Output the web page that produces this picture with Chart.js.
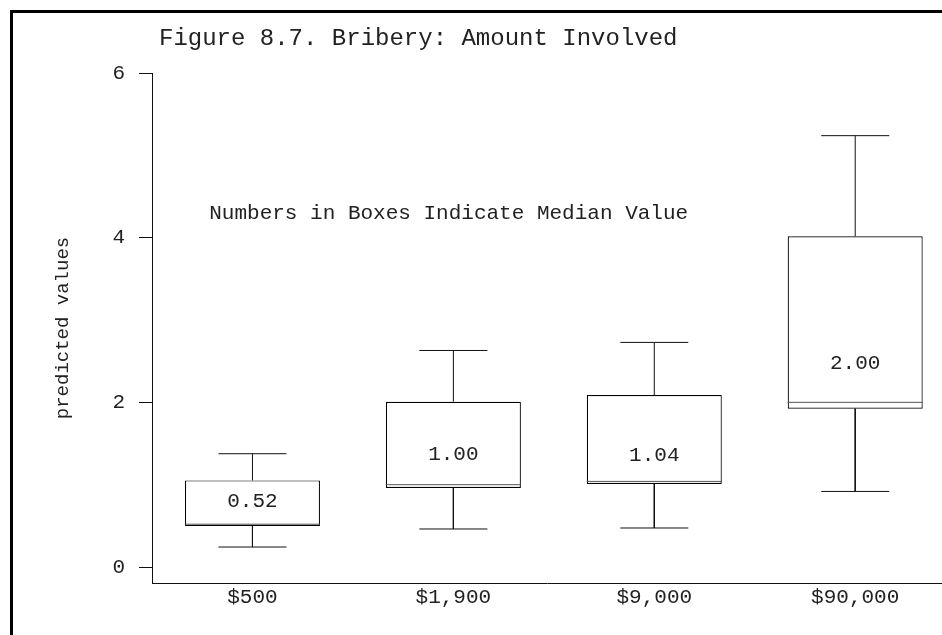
<!DOCTYPE html>
<html>
<head>
<meta charset="utf-8">
<script src="https://cdn.jsdelivr.net/npm/chart.js@4.4.1/dist/chart.umd.min.js"></script>
<style>
  html, body { margin: 0; padding: 0; background: #fff; overflow: hidden; }
  #wrap { width: 942px; height: 635px; }
</style>
</head>
<body>
<div id="wrap"><canvas id="boxChart" width="942" height="635"></canvas></div>
<script>
// Data
const categories = ['$500', '$1,900', '$9,000', '$90,000'];
const whiskerLow = [0.243, 0.462, 0.474, 0.918];
const quartile1 = [0.498, 0.96, 1.008, 1.923];
const medians = [0.52, 1.00, 1.04, 2.00];
const quartile3 = [1.052, 2.008, 2.089, 4.016];
const whiskerHigh = [1.376, 2.63, 2.728, 5.239];
// where the median number sits inside each box
const labelY = [0.797, 1.364, 1.352, 2.478];
const yTicks = [0, 2, 4, 6];

const FONT = '"Liberation Mono", "DejaVu Sans Mono", monospace';
const INK = '#111';

// whiskers: one vertical segment above and one below each box
const whiskerPoints = [];
categories.forEach((c, i) => {
    whiskerPoints.push({x: i + 1, y: quartile3[i]}, {x: i + 1, y: whiskerHigh[i]}, {x: i + 1, y: null});
    whiskerPoints.push({x: i + 1, y: quartile1[i]}, {x: i + 1, y: whiskerLow[i]}, {x: i + 1, y: null});
});

const capPoints = [];
categories.forEach((c, i) => {
    capPoints.push({x: i + 1, y: whiskerHigh[i]}, {x: i + 1, y: whiskerLow[i]});
});

const framePlugin = {
    id: 'frame',
    beforeDraw(chart) {
        const ctx = chart.ctx;
        ctx.save();
        ctx.fillStyle = '#fff';
        ctx.fillRect(0, 0, chart.width, chart.height);
        ctx.fillStyle = '#000';
        ctx.fillRect(10, 10, chart.width - 10, 3);
        ctx.fillRect(10, 10, 3, chart.height - 10);
        ctx.restore();
    },
    afterDatasetsDraw(chart) {
        const ctx = chart.ctx;
        const xs = chart.scales.x;
        const ys = chart.scales.y;
        ctx.save();
        ctx.fillStyle = '#222';
        ctx.font = '24px ' + FONT;
        ctx.textAlign = 'left';
        ctx.textBaseline = 'alphabetic';
        ctx.fillText('Figure 8.7. Bribery: Amount Involved', 159, 45);

        ctx.font = '21px ' + FONT;
        ctx.textBaseline = 'middle';
        ctx.fillText('Numbers in Boxes Indicate Median Value', xs.getPixelForValue(0.785), ys.getPixelForValue(4.3));

        ctx.textAlign = 'center';
        medians.forEach((m, i) => {
            ctx.fillText(m.toFixed(2), xs.getPixelForValue(i + 1), ys.getPixelForValue(labelY[i]));
        });
        ctx.restore();
    }
};

new Chart(document.getElementById('boxChart'), {
    type: 'bar',
    data: {
        datasets: [
            {
                label: 'caps',
                type: 'scatter',
                data: capPoints,
                pointStyle: 'line',
                radius: 34,
                borderColor: INK,
                borderWidth: 1,
                order: 1
            },
            {
                label: 'median',
                type: 'scatter',
                data: medians.map((m, i) => ({x: i + 1, y: m})),
                pointStyle: 'line',
                radius: 67.5,
                borderColor: '#555',
                borderWidth: 1,
                order: 1
            },
            {
                label: 'whiskers',
                type: 'line',
                data: whiskerPoints,
                borderColor: INK,
                borderWidth: 1,
                pointRadius: 0,
                spanGaps: false,
                fill: false,
                order: 2
            },
            {
                label: 'boxes',
                data: quartile1.map((q, i) => ({x: i + 1, y: [q, quartile3[i]]})),
                backgroundColor: '#fff',
                borderColor: '#000',
                borderWidth: 1.2,
                borderSkipped: false,
                categoryPercentage: 1,
                barPercentage: 0.672,
                order: 3
            }
        ]
    },
    options: {
        responsive: false,
        animation: false,
        events: [],
        layout: { autoPadding: false, padding: { top: 73, left: 0, right: 0, bottom: 0 } },
        plugins: {
            legend: { display: false },
            title: { display: false },
            tooltip: { enabled: false }
        },
        scales: {
            x: {
                type: 'linear',
                min: 0.5,
                max: 4.432,
                offset: false,
                afterBuildTicks: (scale) => {
                    scale.ticks = categories.map((c, i) => ({value: i + 1}));
                },
                afterFit: (scale) => { scale.height = 52; },
                grid: { drawOnChartArea: false, drawTicks: false, offset: false },
                border: { display: true, color: INK, width: 1 },
                ticks: {
                    color: '#222',
                    padding: 2,
                    maxRotation: 0,
                    autoSkip: false,
                    font: { family: FONT, size: 21 },
                    callback: (value, index) => categories[index]
                }
            },
            y: {
                type: 'linear',
                min: -0.194,
                max: 6,
                afterBuildTicks: (scale) => {
                    scale.ticks = yTicks.map(v => ({value: v}));
                },
                afterFit: (scale) => { scale.width = 152; },
                grid: { drawOnChartArea: false, drawTicks: true, tickLength: 13, color: INK },
                border: { display: true, color: INK, width: 1 },
                ticks: {
                    color: '#222',
                    padding: 14,
                    font: { family: FONT, size: 21 },
                    callback: (value) => value
                },
                title: {
                    display: true,
                    text: 'predicted values',
                    color: '#222',
                    font: { family: FONT, size: 19 },
                    padding: { top: 52, bottom: 0 },
                    align: 'center'
                }
            }
        }
    },
    plugins: [framePlugin]
});
</script>
</body>
</html>
